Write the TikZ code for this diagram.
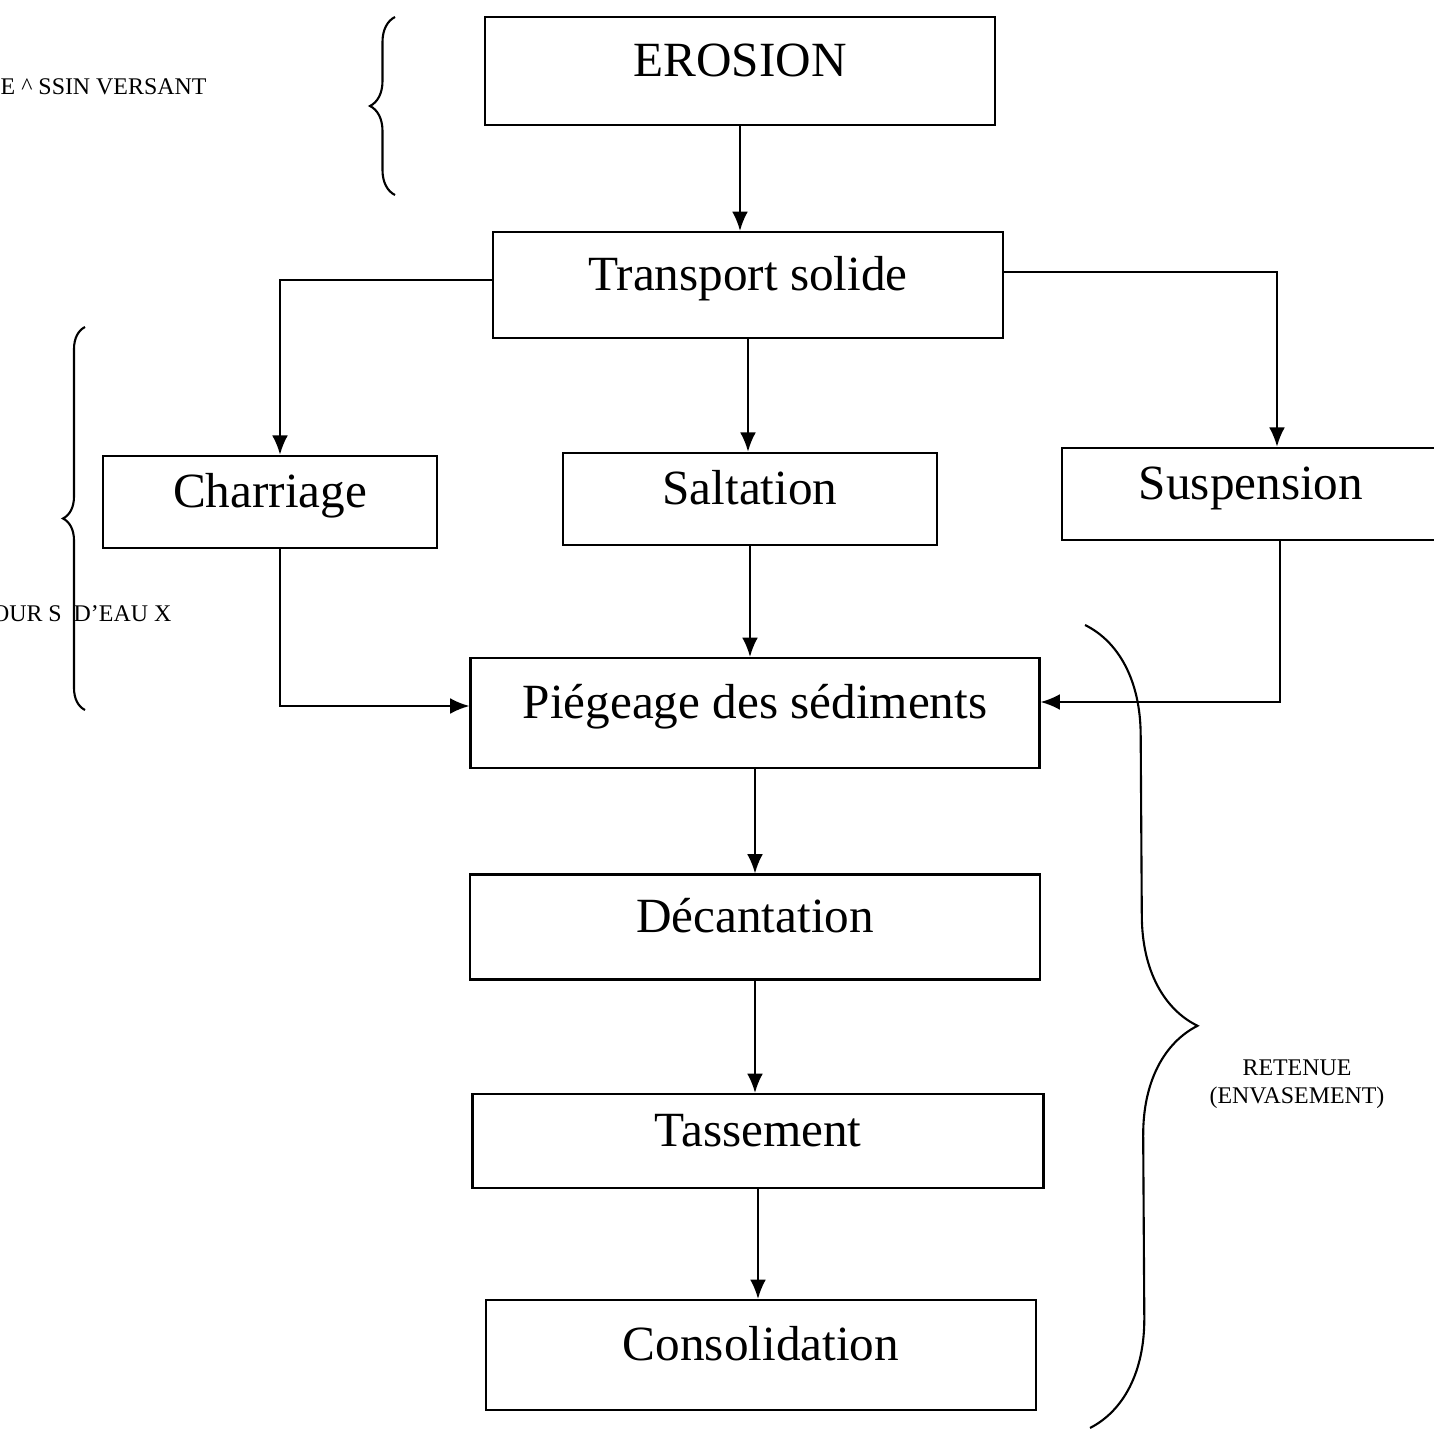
\documentclass[tikz,border=0pt]{standalone}
\usepackage{fontspec}
\setmainfont{Liberation Serif}
\usetikzlibrary{arrows.meta,calc,positioning,decorations.pathreplacing}
\tikzstyle{stage} = [rectangle, minimum width=5.1cm, minimum height=1.06cm, text height=0.4cm, text depth=0.29cm, text centered, draw=black, line width=0.6pt, font=\fontsize{14}{16}\selectfont]
\tikzstyle{mode} = [stage, minimum width=3.5cm, minimum height=0.92cm]
\tikzstyle{arrow} = [line width=0.6pt,-{Latex[length=5.5pt,width=4.5pt]}]
\tikzstyle{brace} = [line width=0.6pt, decorate, decoration={brace,amplitude=0.25cm}]
\tikzstyle{tag} = [font=\fontsize{6.8}{8}\selectfont, inner sep=0pt]

\begin{document}
\begin{tikzpicture}[node distance=2.14cm]
\useasboundingbox (0,0) rectangle (14.34,-14.29);

\node (erosion) [stage, minimum height=1.08cm] at (7.40,-0.71) {EROSION};
\node (transport) [stage, below of=erosion, xshift=0.08cm] {Transport solide};
%
\node (saltation) [mode, below of=transport, minimum width=3.74cm, xshift=0.02cm] {Saltation};
\node (charriage) [mode, left of=saltation, node distance=4.8cm, minimum width=3.34cm, yshift=-0.03cm] {Charriage};
\node (suspension) [mode, right of=saltation, node distance=5.01cm, minimum width=3.78cm, yshift=0.05cm] {Suspension};
%
\node (piegeage) [stage, below of=saltation, minimum width=5.69cm, minimum height=1.1cm, xshift=0.05cm] {Piégeage des sédiments};
\node (decantation) [stage, below of=piegeage, minimum width=5.7cm, minimum height=1.05cm] {Décantation};
\node (tassement) [stage, below of=decantation, minimum width=5.71cm, minimum height=0.94cm, xshift=0.03cm] {Tassement};
\node (consolidation) [stage, below of=tassement, minimum width=5.5cm, minimum height=1.1cm, xshift=0.03cm] {Consolidation};
%
\node (bassin) [tag, anchor=west] at (0,-0.87) {E \textasciicircum{} SSIN VERSANT};
\node (cours) [tag, anchor=east] at (1.72,-6.14) {OUR S\enspace D’EAU X};
\node (retenue) [tag, align=center] at (12.97,-10.84) {RETENUE\\(ENVASEMENT)};

\draw [arrow] (erosion.south) -- (erosion.south |- transport.north);
\draw [arrow] ([yshift=0.05cm]transport.west) -| ([xshift=0.1cm]charriage.north);
\draw [arrow] (transport.south) -- (transport.south |- saltation.north);
\draw [arrow] ([yshift=0.13cm]transport.east) -| ([xshift=0.26cm]suspension.north);
\draw [arrow] ([xshift=0.1cm]charriage.south) |- ([yshift=0.07cm]piegeage.west);
\draw [arrow] (saltation.south) -- (saltation.south |- piegeage.north);
\draw [arrow] ([xshift=0.29cm]suspension.south) |- ([yshift=0.11cm]piegeage.east);
\draw [arrow] (piegeage.south) -- (piegeage.south |- decantation.north);
\draw [arrow] (decantation.south) -- (decantation.south |- tassement.north);
\draw [arrow] (tassement.south) -- (tassement.south |- consolidation.north);
%
\draw [brace] (3.95,-1.95) -- (3.95,-0.17);
\draw [brace, decoration={amplitude=0.22cm}] (0.85,-7.10) -- (0.85,-3.27);
\draw [brace, decoration={amplitude=1.1cm}] (10.85,-6.25) -- (10.9,-14.28);

\end{tikzpicture}
\end{document}
